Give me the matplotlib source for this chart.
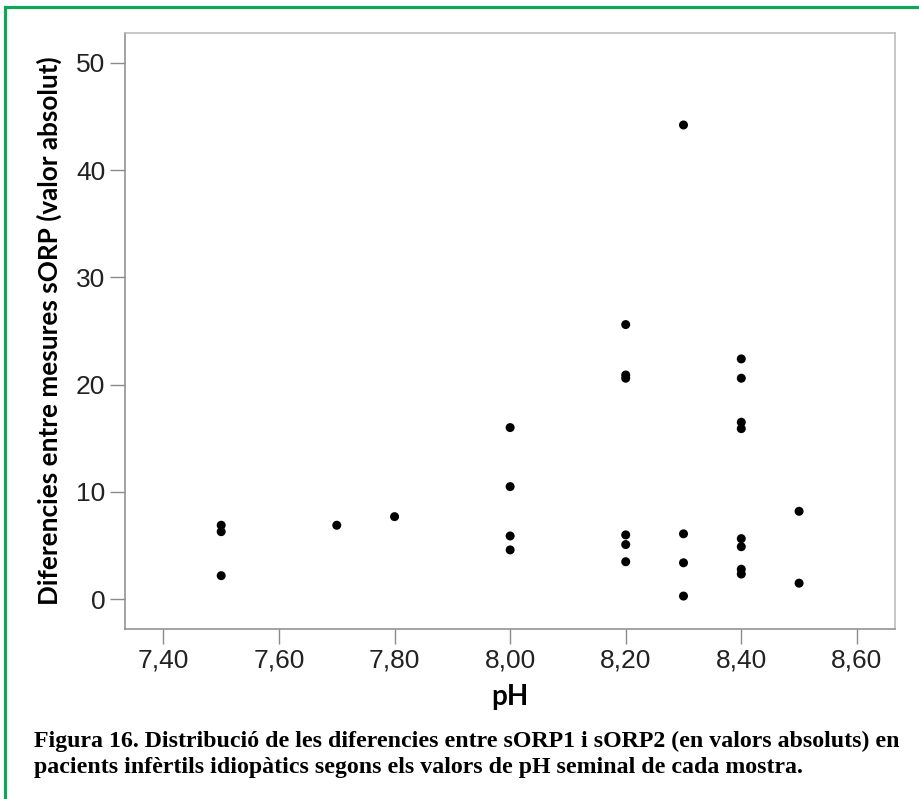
import matplotlib
matplotlib.use("Agg")
import matplotlib.pyplot as plt
from matplotlib.lines import Line2D

# Data
ph = [7.5, 7.5, 7.5, 7.7, 7.8,
      8.0, 8.0, 8.0, 8.0,
      8.2, 8.2, 8.2, 8.2, 8.2, 8.2,
      8.3, 8.3, 8.3, 8.3,
      8.4, 8.4, 8.4, 8.4, 8.4, 8.4, 8.4, 8.4,
      8.5, 8.5]
diff = [6.9, 6.3, 2.2, 6.9, 7.7,
        16.0, 10.5, 5.9, 4.6,
        25.6, 20.9, 20.6, 6.0, 5.1, 3.5,
        44.2, 6.1, 3.4, 0.3,
        22.4, 20.6, 16.5, 15.9, 5.65, 4.9, 2.8, 2.35,
        8.2, 1.5]
xticks = [7.4, 7.6, 7.8, 8.0, 8.2, 8.4, 8.6]
xticklabels = ["7,40", "7,60", "7,80", "8,00", "8,20", "8,40", "8,60"]
yticks = [0, 10, 20, 30, 40, 50]

W, H = 920, 799
fig = plt.figure(figsize=(W / 100, H / 100), dpi=100)
fig.patch.set_facecolor("white")

ax = fig.add_axes([124.7 / W, 1 - 629 / H, (895 - 124.7) / W, (629 - 32.7) / H])
ax.scatter(ph, diff, s=42, color="black", edgecolors="none", zorder=3)

ax.set_xlim(7.333, 8.666)
ax.set_ylim(-2.77, 52.8)
ax.set_xticks(xticks)
ax.set_xticklabels(xticklabels)
ax.set_yticks(yticks)

dark = "#8a8a8a"
light = "#b8b8b8"
ax.spines["left"].set_color(dark)
ax.spines["bottom"].set_color(dark)
ax.spines["top"].set_color(light)
ax.spines["right"].set_color(light)
for s in ax.spines.values():
    s.set_linewidth(1.1)
ax.tick_params(axis="both", direction="out", length=11, width=1.0, color=dark,
               labelsize=19, labelcolor="#222222", pad=3)
for lab in ax.get_xticklabels() + ax.get_yticklabels():
    lab.set_fontfamily(["Liberation Sans", "DejaVu Sans"])

ax.set_xlabel("pH", fontsize=20, fontweight="bold", family=["Lato", "DejaVu Sans"], labelpad=8)
ax.set_ylabel("Diferencies entre mesures sORP (valor absolut)", fontsize=18.8,
              fontweight="bold", family=["Lato", "DejaVu Sans"], labelpad=10)

caption = ("Figura 16. Distribució de les diferencies entre sORP1 i sORP2 (en valors absoluts) en\n"
           "pacients infèrtils idiopàtics segons els valors de pH seminal de cada mostra.")
fig.text(34 / W, 1 - 731 / H, caption, ha="left", va="top", fontsize=17.2,
         fontweight="bold", family=["Liberation Serif", "DejaVu Serif"], linespacing=1.3)

green = "#00b050"
fig.add_artist(Line2D([5 / W, 5 / W], [0, 1 - 7 / H], transform=fig.transFigure, color=green, lw=2.2))
fig.add_artist(Line2D([5 / W, 1], [1 - 7 / H, 1 - 7 / H], transform=fig.transFigure, color=green, lw=2.2))

fig.savefig("out.png", dpi=100)
